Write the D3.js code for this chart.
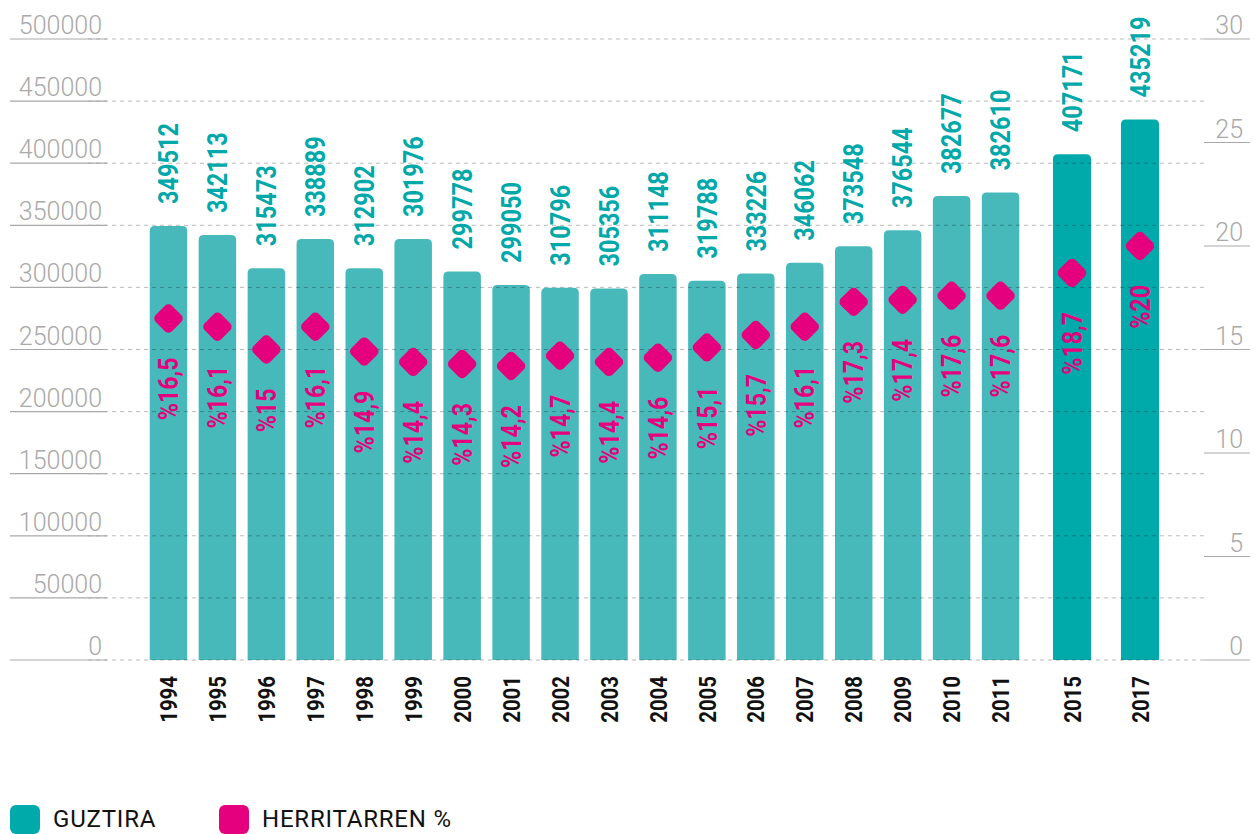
<!doctype html>
<html lang="eu">
<head>
  <meta charset="utf-8">
  <title>Guztira eta herritarren %</title>
  <style>
    body { margin: 0; background: #fff; }
    svg { display: block; font-family: Roboto, "Open Sans", sans-serif; }
    .tick-label { fill: #a9a9a9; font-size: 25px; font-weight: 300; }
    .axis-rule { stroke: #a9a9a9; stroke-width: 1.2; }
    .grid { stroke: #000; stroke-opacity: 0.27; stroke-dasharray: 4 4; stroke-width: 1; }
    .val { fill: #00a8a9; font-size: 27px; font-weight: 700; }
    .pct { fill: #e5007d; font-size: 27px; font-weight: 700; }
    .year { fill: #111; font-size: 24px; font-weight: 700; }
    .legend { fill: #111; font-size: 24px; font-weight: 400; letter-spacing: 0.8px; }
  </style>
</head>
<body>
  <div id="chart"></div>
  <script src="https://cdn.jsdelivr.net/npm/d3@7"></script>
  <script>
(function() {

  // data
  var years = ["1994", "1995", "1996", "1997", "1998", "1999", "2000", "2001", "2002",
               "2003", "2004", "2005", "2006", "2007", "2008", "2009", "2010", "2011"];
  var laterYears = ["2015", "2017"];
  // printed totals
  var totals = [349512, 342113, 315473, 338889, 312902, 301976, 299778, 299050, 310796,
                305356, 311148, 319788, 333226, 346062, 373548, 376544, 382677, 382610,
                407171, 435219];
  // bar heights as drawn (they do not always follow the printed totals)
  var barValues = [349500, 342100, 315500, 338900, 315500, 338900, 312900, 302000, 299800,
                   299100, 310800, 305400, 311100, 319800, 333200, 346100, 373500, 376500,
                   407200, 435200];
  var percents = [16.5, 16.1, 15, 16.1, 14.9, 14.4, 14.3, 14.2, 14.7, 14.4, 14.6, 15.1,
                  15.7, 16.1, 17.3, 17.4, 17.6, 17.6, 18.7, 20];
  var leftTicks = [0, 50000, 100000, 150000, 200000, 250000, 300000, 350000, 400000, 450000, 500000];
  var rightTicks = [0, 5, 10, 15, 20, 25, 30];
  var legendItems = ["GUZTIRA", "HERRITARREN %"];

  var width = 1255, height = 834;
  var light = "#48b9ba", dark = "#00a9aa", pink = "#e5007d";

  var svg = d3.select("#chart").append("svg")
      .attr("width", width)
      .attr("height", height);

  var y = d3.scaleLinear().domain([0, 500000]).range([660, 39]);
  var y2 = d3.scaleLinear().domain([0, 30]).range([660, 39]);

  var x1 = d3.scaleBand().domain(years).range([144, 1025]).paddingInner(0.234).paddingOuter(0.117);
  var x2 = d3.scaleBand().domain(laterYears).range([1038, 1174]).paddingInner(0.44).paddingOuter(0.22);

  var allYears = years.concat(laterYears);
  var rows = allYears.map(function(yr, i) {
    var late = i >= years.length;
    var sc = late ? x2 : x1;
    return {
      year: yr, total: totals[i], bar: barValues[i], pct: percents[i], late: late,
      x: sc(yr), w: sc.bandwidth(), cx: sc(yr) + sc.bandwidth() / 2
    };
  });

  function topRounded(x, yTop, w, yBottom, r) {
    return "M" + x + "," + yBottom +
      "V" + (yTop + r) +
      "Q" + x + "," + yTop + " " + (x + r) + "," + yTop +
      "H" + (x + w - r) +
      "Q" + (x + w) + "," + yTop + " " + (x + w) + "," + (yTop + r) +
      "V" + yBottom + "Z";
  }

  // bars
  svg.append("g").selectAll("path")
    .data(rows)
    .enter().append("path")
      .attr("d", function(d) { return topRounded(d.x, y(d.bar), d.w, y(0), 5); })
      .attr("fill", function(d) { return d.late ? dark : light; });

  // left axis: solid rule under each label, dashed grid across
  var left = svg.append("g");
  left.selectAll("line.grid")
    .data(leftTicks)
    .enter().append("line")
      .attr("class", "grid")
      .attr("x1", 88).attr("x2", 1205)
      .attr("y1", function(d) { return y(d); })
      .attr("y2", function(d) { return y(d); });
  left.selectAll("line.axis-rule")
    .data(leftTicks)
    .enter().append("line")
      .attr("class", "axis-rule")
      .attr("x1", 10).attr("x2", 107)
      .attr("y1", function(d) { return y(d); })
      .attr("y2", function(d) { return y(d); });
  left.selectAll("text")
    .data(leftTicks)
    .enter().append("text")
      .attr("class", "tick-label")
      .attr("text-anchor", "end")
      .attr("x", 102)
      .attr("y", function(d) { return y(d) - 5; })
      .text(function(d) { return d; });

  // right axis
  var right = svg.append("g");
  right.selectAll("line")
    .data(rightTicks)
    .enter().append("line")
      .attr("class", "axis-rule")
      .attr("x1", 1204).attr("x2", 1250)
      .attr("y1", function(d) { return y2(d); })
      .attr("y2", function(d) { return y2(d); });
  right.selectAll("text")
    .data(rightTicks)
    .enter().append("text")
      .attr("class", "tick-label")
      .attr("text-anchor", "end")
      .attr("x", 1243)
      .attr("y", function(d) { return y2(d) - 5; })
      .text(function(d) { return d; });

  // diamonds
  svg.append("g").selectAll("rect")
    .data(rows)
    .enter().append("rect")
      .attr("x", -11.5).attr("y", -11.5)
      .attr("width", 23).attr("height", 23)
      .attr("rx", 5)
      .attr("fill", pink)
      .attr("transform", function(d) { return "translate(" + d.cx + "," + y2(d.pct) + ")rotate(45)"; });

  // value labels above bars
  svg.append("g").selectAll("text")
    .data(rows)
    .enter().append("text")
      .attr("class", "val")
      .attr("transform", function(d) {
        return "translate(" + d.cx + "," + (y(d.bar) - 22) + ")rotate(-90)scale(0.87,1)";
      })
      .attr("dy", "0.36em")
      .text(function(d) { return d.total; });

  // percentage labels under diamonds
  svg.append("g").selectAll("text")
    .data(rows)
    .enter().append("text")
      .attr("class", "pct")
      .attr("text-anchor", "end")
      .attr("transform", function(d) {
        return "translate(" + d.cx + "," + (y2(d.pct) + 39) + ")rotate(-90)scale(0.86,1)";
      })
      .attr("dy", "0.36em")
      .text(function(d) { return "%" + String(d.pct).replace(".", ","); });

  // year labels
  svg.append("g").selectAll("text")
    .data(rows)
    .enter().append("text")
      .attr("class", "year")
      .attr("text-anchor", "end")
      .attr("transform", function(d) {
        return "translate(" + d.cx + ",676)rotate(-90)scale(0.85,1)";
      })
      .attr("dy", "0.36em")
      .text(function(d) { return d.year; });

  // legend
  var legendColors = [dark, pink];
  var legendX = [10, 219];
  var lg = svg.append("g").selectAll("g")
    .data(legendItems)
    .enter().append("g")
      .attr("transform", function(d, i) { return "translate(" + legendX[i] + ",805)"; });
  lg.append("rect")
    .attr("width", 30).attr("height", 29).attr("rx", 6)
    .attr("fill", function(d, i) { return legendColors[i]; });
  lg.append("text")
    .attr("class", "legend")
    .attr("x", 43).attr("y", 22)
    .text(function(d) { return d; });

})();
  </script>
</body>
</html>
